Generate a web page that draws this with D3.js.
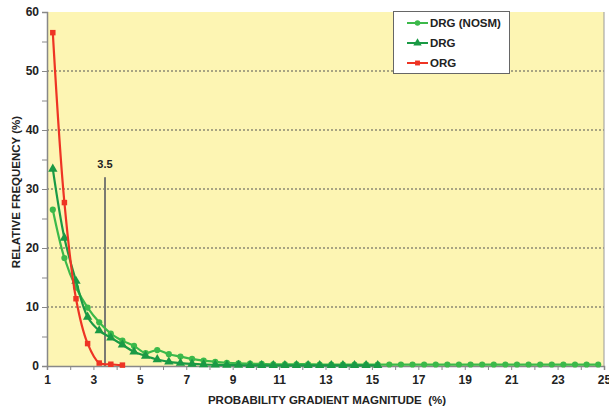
<!DOCTYPE html>
<html><head><meta charset="utf-8">
<script src="https://cdn.jsdelivr.net/npm/d3@7/dist/d3.min.js"></script>
<style>
body{margin:0;background:#fff;}
text{font-family:"Liberation Sans",Arial,sans-serif;font-weight:bold;fill:#222;}
</style></head>
<body><svg id="c" width="609" height="409"></svg>
<script>
const xCats = [1.25,1.75,2.25,2.75,3.25,3.75,4.25,4.75,5.25,5.75,6.25,6.75,7.25,7.75,8.25,8.75,9.25,9.75,10.25,10.75,11.25,11.75,12.25,12.75,13.25,13.75,14.25,14.75,15.25,15.75,16.25,16.75,17.25,17.75,18.25,18.75,19.25,19.75,20.25,20.75,21.25,21.75,22.25,22.75,23.25,23.75,24.25,24.75];
const drgNosm = [26.5,18.3,13.3,9.9,7.4,5.5,4.3,3.4,2.2,2.7,2.0,1.6,1.2,0.9,0.7,0.55,0.45,0.4,0.35,0.3,0.3,0.3,0.3,0.25,0.25,0.25,0.25,0.25,0.25,0.25,0.25,0.25,0.25,0.25,0.25,0.25,0.25,0.25,0.25,0.25,0.25,0.25,0.25,0.25,0.25,0.25,0.25,0.25];
const drg = [33.4,21.7,14.4,8.3,6.0,4.8,3.6,2.4,1.7,1.1,0.7,0.5,0.35,0.25,0.2,0.15,0.15,0.1,0.1,0.1,0.1,0.1,0.1,0.1,0.1,0.1,0.1,0.1,0.1];
const org = [56.5,27.7,11.4,3.8,0.5,0.3,0.15];
const yTicks = [0,10,20,30,40,50,60];
const xTickLabels = [1,3,5,7,9,11,13,15,17,19,21,23,25];
const threshold = 3.5, thresholdTop = 32;
const seriesNames = ["DRG (NOSM)","DRG","ORG"];

const svg = d3.select("#c");
const L=47,R=604,T=12,B=366;
const x = d3.scaleLinear().domain([1,25]).range([L,R]);
const y = d3.scaleLinear().domain([0,60]).range([B,T]);

svg.append("rect").attr("x",L).attr("y",T).attr("width",R-L).attr("height",B-T).attr("fill","#fdf5b3");
// grid
svg.append("g").selectAll("line").data(yTicks.filter(v=>v>0&&v<60)).join("line")
 .attr("x1",L).attr("x2",R).attr("y1",d=>y(d)).attr("y2",d=>y(d))
 .attr("stroke","#555").attr("stroke-width",1.2).attr("stroke-dasharray","2,2");
// right border
svg.append("line").attr("x1",R).attr("x2",R).attr("y1",T).attr("y2",B).attr("stroke","#999").attr("stroke-width",1);

// y axis
const ya = svg.append("g").attr("transform",`translate(${L},0)`)
 .call(d3.axisLeft(y).tickValues(d3.range(0,61,5)).tickSize(5).tickFormat(d=>yTicks.includes(d)?d:""));
ya.select(".domain").attr("stroke","#888").attr("stroke-width",1.5);
ya.selectAll(".tick line").attr("stroke","#888");
ya.selectAll("text").attr("font-size",12).attr("x",-8).style("fill","#222");
// x axis
const xa = svg.append("g").attr("transform",`translate(0,${B})`)
 .call(d3.axisBottom(x).tickValues(d3.range(1,26,1)).tickSize(4).tickFormat(d=>xTickLabels.includes(d)?d:""));
xa.select(".domain").attr("stroke","#888").attr("stroke-width",1.5);
xa.selectAll(".tick line").attr("stroke","#888");
xa.selectAll("text").attr("font-size",12).attr("y",9).style("fill","#222");

// threshold line
svg.append("line").attr("x1",x(threshold)).attr("x2",x(threshold)).attr("y1",y(thresholdTop)).attr("y2",y(0))
 .attr("stroke","#7a7a72").attr("stroke-width",2);
svg.append("text").attr("x",x(threshold)).attr("y",y(thresholdTop)-9).attr("text-anchor","middle").attr("font-size",11).text("3.5");

const curve = d3.curveCatmullRom.alpha(0.5);
const series = [
 {name:seriesNames[0],vals:drgNosm,color:"#3cb94a",sym:d3.symbolCircle,size:30},
 {name:seriesNames[1],vals:drg,color:"#1a9a45",sym:d3.symbolTriangle,size:38},
 {name:seriesNames[2],vals:org,color:"#ee3424",sym:d3.symbolSquare,size:30}
];
series.forEach(s=>{
 const pts = s.vals.map((v,i)=>[xCats[i],v]);
 svg.append("path").datum(pts)
  .attr("d",d3.line().x(d=>x(d[0])).y(d=>y(d[1])).curve(curve))
  .attr("fill","none").attr("stroke",s.color).attr("stroke-width",2.2);
 svg.append("g").selectAll("path").data(pts).join("path")
  .attr("transform",d=>`translate(${x(d[0])},${y(d[1])})`)
  .attr("d",d3.symbol().type(s.sym).size(s.size)).attr("fill",s.color);
});

// legend
const lg = svg.append("g");
lg.append("rect").attr("x",393.5).attr("y",11.5).attr("width",116).attr("height",62).attr("fill","#fff").attr("stroke","#666");
series.forEach((s,i)=>{
 const yy = 23+i*20;
 lg.append("line").attr("x1",407).attr("x2",428).attr("y1",yy).attr("y2",yy).attr("stroke",s.color).attr("stroke-width",2);
 lg.append("path").attr("transform",`translate(417.5,${yy})`).attr("d",d3.symbol().type(s.sym).size(s.size*0.8)).attr("fill",s.color);
 lg.append("text").attr("x",430).attr("y",yy+4).attr("font-size",11.5).text(s.name);
});

// axis titles
svg.append("text").attr("transform",`translate(20,${(T+B)/2+3}) rotate(-90)`).attr("text-anchor","middle").attr("font-size",11.5).text("RELATIVE FREQUENCY  (%)");
svg.append("text").attr("x",327).attr("y",404).attr("text-anchor","middle").attr("font-size",11.5).attr("xml:space","preserve").text("PROBABILITY GRADIENT MAGNITUDE  (%)");
</script></body></html>
